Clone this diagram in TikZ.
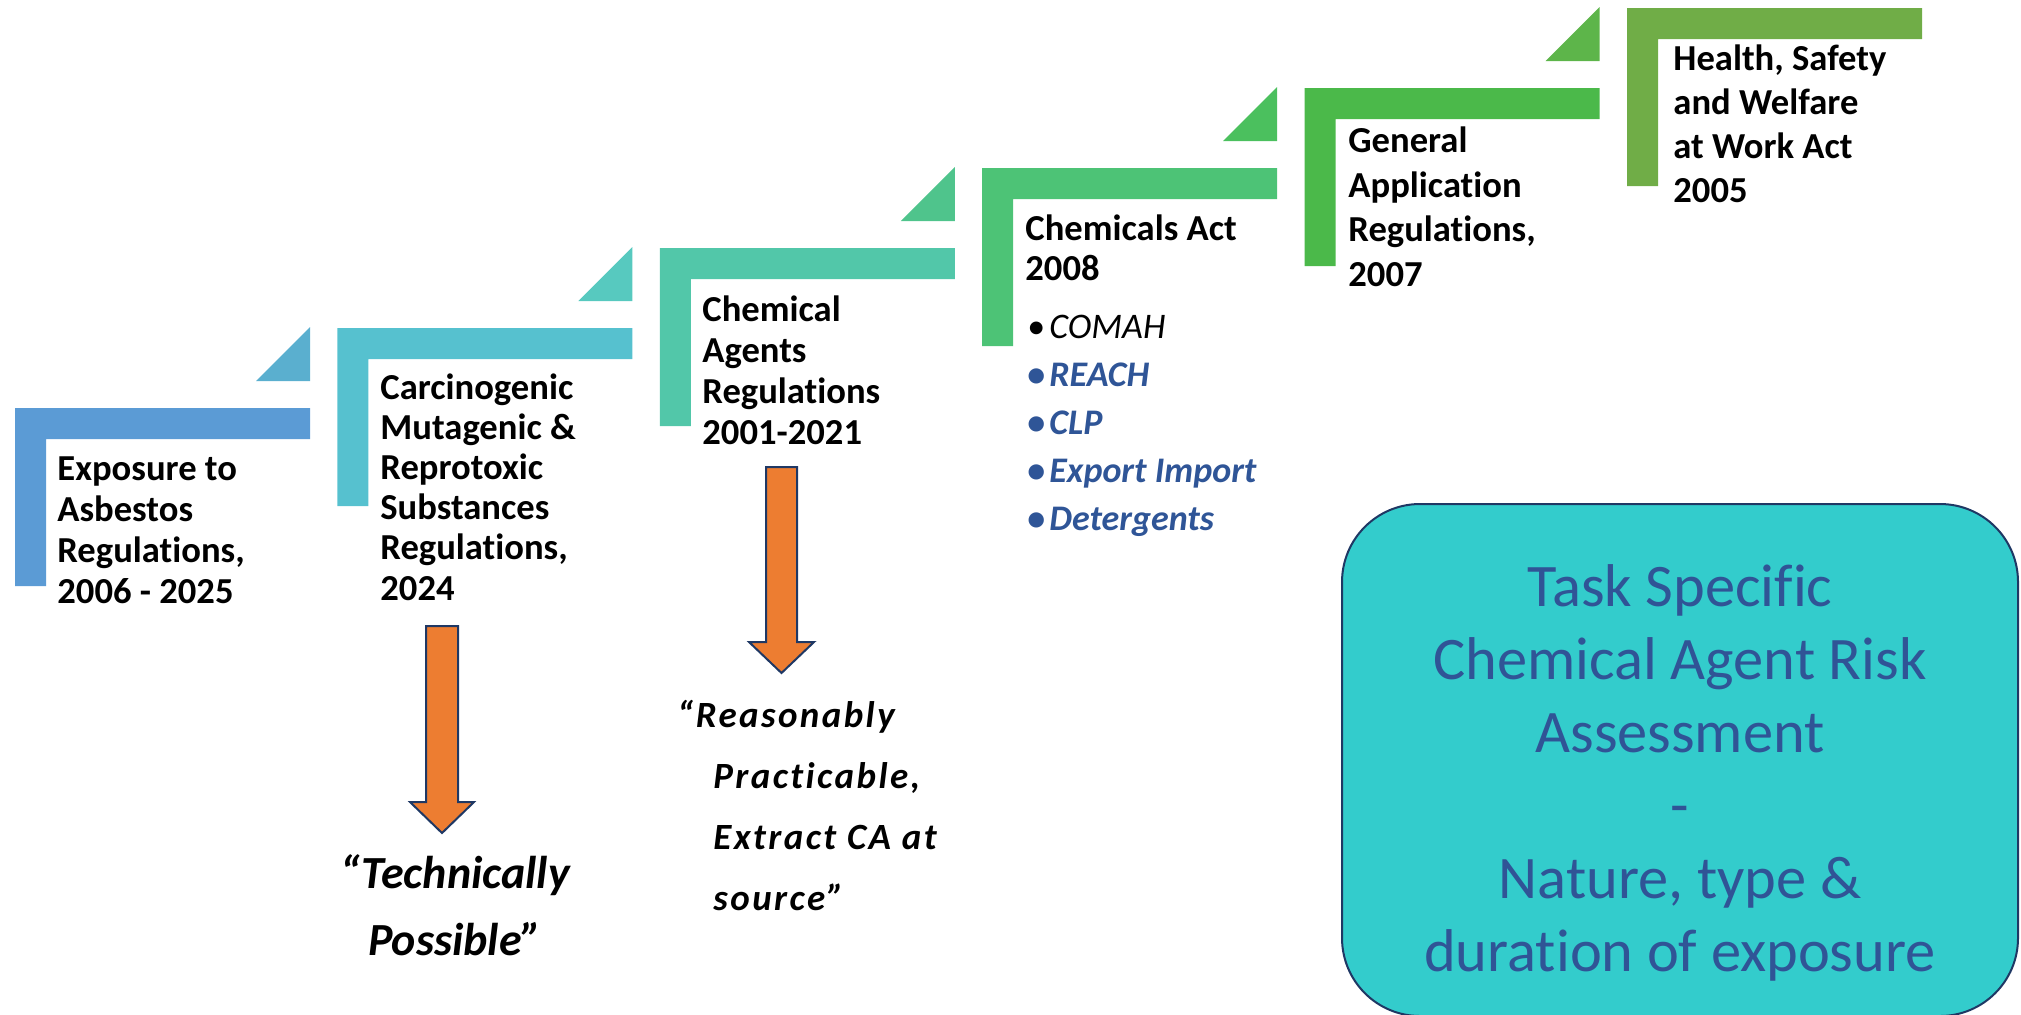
\documentclass[tikz,border=0pt]{standalone}
\usepackage{fontspec}
\setmainfont{Carlito}[Ligatures=NoCommon]
\definecolor{barA}{HTML}{5B9BD5}
\definecolor{barB}{HTML}{56C1CF}
\definecolor{barC}{HTML}{52C7A9}
\definecolor{barD}{HTML}{4DC376}
\definecolor{barE}{HTML}{4BB94A}
\definecolor{barF}{HTML}{70AD47}
\definecolor{triA}{HTML}{5AAFCF}
\definecolor{triB}{HTML}{57C9BF}
\definecolor{triC}{HTML}{4FC48C}
\definecolor{triD}{HTML}{4BC05E}
\definecolor{triE}{HTML}{5DB54A}
\definecolor{arrowfill}{HTML}{ED7D31}
\definecolor{navy}{HTML}{1F3864}
\definecolor{itemblue}{HTML}{2F5597}
\definecolor{boxfill}{HTML}{33CCCC}
\definecolor{boxtext}{HTML}{305496}
\begin{document}
\begin{tikzpicture}[x=0.5pt,y=-0.5pt,
  steptext/.style={anchor=base west, inner sep=0pt, align=left,
    font=\bfseries\fontsize{18.3}{20.5}\selectfont},
  steptextwide/.style={steptext, font=\bfseries\fontsize{18.3}{22.2}\selectfont},
  itemlist/.style={anchor=base west, inner sep=0pt, align=left,
    font=\fontsize{18}{24}\selectfont},
  blockarrow/.style={fill=arrowfill, draw=navy, line width=1pt, line join=miter},
  quotetext/.style={inner sep=0pt, font=\bfseries\itshape},
  bigbox/.style={fill=boxfill, draw=navy, line width=1pt, rounded corners=39pt},
  boxlabel/.style={anchor=base, inner sep=0pt, align=center, text=boxtext,
    font=\fontsize{30.2}{36.5}\selectfont}
]
\useasboundingbox (0,0) rectangle (2021,1014);

% L-shaped steps
\foreach \i/\bc in {0/barA,1/barB,2/barC,3/barD,4/barE,5/barF}{
  \pgfmathsetmacro\xo{15+322.4*\i}
  \pgfmathsetmacro\yo{408-80*\i}
  \fill[\bc] (\xo,\yo) -- ++(295,0) -- ++(0,31) -- ++(-264,0) -- ++(0,147) -- ++(-31,0) -- cycle;
}
% small triangles
\foreach \i/\tc in {0/triA,1/triB,2/triC,3/triD,4/triE}{
  \pgfmathsetmacro\xo{15+322.4*\i}
  \pgfmathsetmacro\yo{408-80*\i}
  \fill[\tc] (\xo+241,\yo-27) -- (\xo+295,\yo-27) -- (\xo+295,\yo-81) -- cycle;
}

% step texts (anchor = baseline of the last line)
\node[steptext] (t1) at (57,603) {Exposure to\\Asbestos\\Regulations,\\2006 - 2025};
\node[steptext, font=\bfseries\fontsize{18.3}{20.1}\selectfont] (t2) at (380,600) {Carcinogenic\\Mutagenic \&\\Reprotoxic\\Substances\\Regulations,\\2024};
\node[steptext] (t3) at (702,444) {Chemical\\Agents\\Regulations\\2001-2021};
\node[steptext, font=\bfseries\fontsize{18.3}{19.7}\selectfont] (t4) at (1025,280) {Chemicals Act\\2008};
\node[itemlist] (t4list) at (1027,530) {%
  \makebox[11pt][l]{\textbullet}\textit{COMAH}\\
  \textcolor{itemblue}{\bfseries\makebox[11pt][l]{\textbullet}\textit{REACH}}\\
  \textcolor{itemblue}{\bfseries\makebox[11pt][l]{\textbullet}\textit{CLP}}\\
  \textcolor{itemblue}{\bfseries\makebox[11pt][l]{\textbullet}\textit{Export Import}}\\
  \textcolor{itemblue}{\bfseries\makebox[11pt][l]{\textbullet}\textit{Detergents}}};
\node[steptextwide] (t5) at (1348,286) {General\\Application\\Regulations,\\2007};
\node[steptextwide, font=\bfseries\fontsize{18.3}{22}\selectfont] (t6) at (1673,202) {Health, Safety\\and Welfare\\at Work Act\\2005};

% orange block arrows
\draw[blockarrow] (426,626) -- (458,626) -- (458,802) -- (474,802) -- (442,833) -- (410,802) -- (426,802) -- cycle;
\draw[blockarrow] (766,467) -- (797,467) -- (797,642) -- (814,642) -- (781.5,673) -- (749,642) -- (766,642) -- cycle;

% quote texts
\node[quotetext, anchor=base, align=center, font=\bfseries\itshape\fontsize{23}{33.5}\selectfont] (q1) at (455,955) {“Technically\\Possible”};
\node[quotetext, anchor=base west, align=left, font=\bfseries\itshape\fontsize{18.5}{30.5}\selectfont\addfontfeature{LetterSpace=6.5}] (q2) at (677,910) {“Reasonably\\\hspace*{18pt}Practicable,\\\hspace*{18pt}Extract CA at\\\hspace*{18pt}source”};

% rounded box
\begin{scope}
  \clip (0,0) rectangle (2021,1014);
  \draw[bigbox] (1342,504) rectangle (2018,1016);
\end{scope}
\node[boxlabel] (box) at (1680,971) {Task Specific\\Chemical Agent Risk\\Assessment\\-\\Nature, type \&\\duration of exposure};

\end{tikzpicture}
\end{document}
